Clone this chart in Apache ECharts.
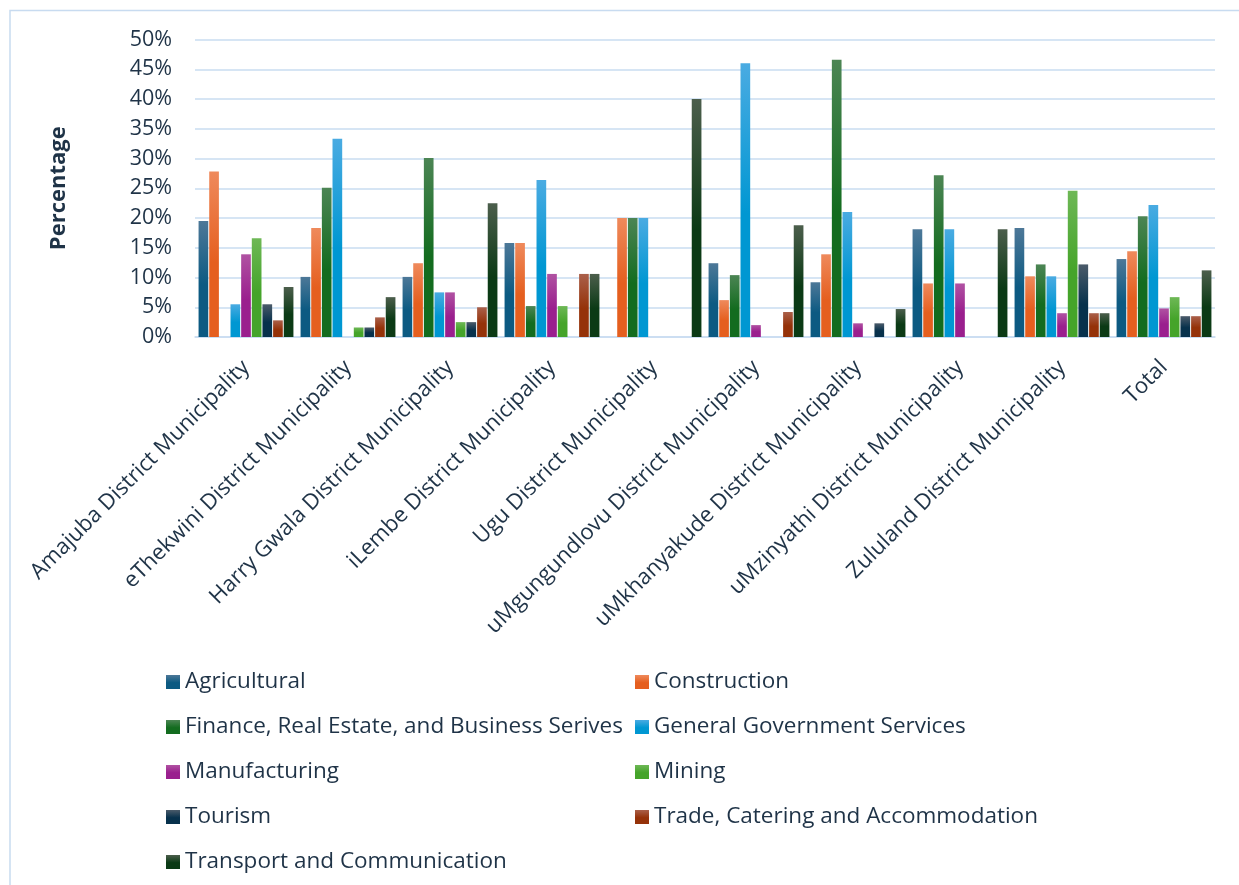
<!DOCTYPE html>
<html>
<head>
<meta charset="utf-8">
<title>Sector share by district municipality</title>
<script src="https://cdn.jsdelivr.net/npm/echarts@6/dist/echarts.min.js"></script>
<style>
  html, body { margin: 0; padding: 0; background: #ffffff; }
  #chart { width: 1239px; height: 885px; }
</style>
</head>
<body>
<div id="chart"></div>
<script>
// District municipalities (x categories)
const categories = [
  'Amajuba District Municipality',
  'eThekwini District Municipality',
  'Harry Gwala District Municipality',
  'iLembe District Municipality',
  'Ugu District Municipality',
  'uMgungundlovu District Municipality',
  'uMkhanyakude District Municipality',
  'uMzinyathi District Municipality',
  'Zululand District Municipality',
  'Total'
];

// Share of each sector per district, in percent
const agricultural  = [19.5, 10.1, 10.1, 15.8, 0,    12.4, 9.2,  18.1, 18.3, 13.1];
const construction  = [27.8, 18.3, 12.4, 15.8, 20.0, 6.2,  13.9, 9.0,  10.2, 14.4];
const finance       = [0,    25.1, 30.1, 5.2,  20.0, 10.4, 46.6, 27.2, 12.2, 20.3];
const government    = [5.5,  33.3, 7.5,  26.4, 20.0, 46.0, 21.0, 18.1, 10.2, 22.2];
const manufacturing = [13.9, 0,    7.5,  10.6, 0,    2.0,  2.3,  9.0,  4.0,  4.8];
const mining        = [16.6, 1.6,  2.5,  5.2,  0,    0,    0,    0,    24.6, 6.7];
const tourism       = [5.5,  1.6,  2.5,  0,    0,    0,    2.3,  0,    12.2, 3.5];
const trade         = [2.8,  3.3,  5.0,  10.6, 0,    4.2,  0,    0,    4.0,  3.5];
const transport     = [8.4,  6.7,  22.5, 10.6, 40.0, 18.8, 4.7,  18.1, 4.0,  11.2];

const yTicks = { min: 0, max: 50, step: 5 };

const TEXT = '#1f3347';
const GRID = '#c9dcf1';
const FONT = '"Open Sans", "Noto Sans", sans-serif';

// vertical gradient: lighter at the top, saturated towards the base
function grad(top, base) {
  return new echarts.graphic.LinearGradient(0, 0, 0, 1, [
    { offset: 0, color: top },
    { offset: 0.55, color: base },
    { offset: 1, color: base }
  ]);
}

const sectors = [
  { name: 'Agricultural', data: agricultural, c: grad('#4d7898', '#0c5a82') },
  { name: 'Construction', data: construction, c: grad('#ef8a5c', '#e55f1f') },
  { name: 'Finance, Real Estate, and Business Serives', data: finance, c: grad('#4c8554', '#136c1f') },
  { name: 'General Government Services', data: government, c: grad('#4aabe2', '#0097d2') },
  { name: 'Manufacturing', data: manufacturing, c: grad('#b052a2', '#9a1f8e') },
  { name: 'Mining', data: mining, c: grad('#6eb856', '#45a42a') },
  { name: 'Tourism', data: tourism, c: grad('#4b5b6a', '#07314c') },
  { name: 'Trade, Catering and Accommodation', data: trade, c: grad('#aa604a', '#953209') },
  { name: 'Transport and Communication', data: transport, c: grad('#4c5e4c', '#0b3a15') }
];

const leftCol = [0, 2, 4, 6, 8].map(i => sectors[i].name);
const rightCol = [1, 3, 5, 7].map(i => sectors[i].name);

const legendBase = {
  orient: 'vertical',
  padding: 0,
  itemWidth: 14,
  itemHeight: 14,
  itemGap: 21,
  itemTextGap: 6,
  icon: 'rect',
  top: 670,
  textStyle: { color: TEXT, fontSize: 22.5, fontFamily: FONT, lineHeight: 24 }
};

const chart = echarts.init(document.getElementById('chart'), null, { renderer: 'canvas' });

chart.setOption({
  backgroundColor: '#ffffff',
  animation: false,
  graphic: [{
    type: 'rect',
    shape: { x: 10, y: 10.5, width: 1400, height: 1000 },
    style: { fill: 'none', stroke: '#c8dbf0', lineWidth: 1.5 },
    silent: true
  }],
  legend: [
    Object.assign({}, legendBase, { left: 166, data: leftCol }),
    Object.assign({}, legendBase, { left: 635, data: rightCol })
  ],
  grid: { left: 195, right: 24, top: 39.5, bottom: 548 },
  xAxis: {
    type: 'category',
    data: categories,
    axisTick: { show: false },
    axisLine: { lineStyle: { color: GRID, width: 1.5 } },
    axisLabel: {
      rotate: 45,
      interval: 0,
      margin: 27,
      color: TEXT,
      fontSize: 22,
      fontFamily: FONT
    }
  },
  yAxis: {
    type: 'value',
    min: yTicks.min,
    max: yTicks.max,
    interval: yTicks.step,
    name: 'Percentage',
    nameLocation: 'middle',
    nameRotate: 90,
    nameGap: 125,
    nameTextStyle: { color: TEXT, fontSize: 22, fontWeight: 'bold', fontFamily: FONT },
    axisLine: { show: false },
    axisTick: { show: false },
    axisLabel: { formatter: '{value}%', color: TEXT, fontSize: 21.5, margin: 23, fontFamily: FONT },
    splitLine: { lineStyle: { color: GRID, width: 1.5 } }
  },
  series: sectors.map(s => ({
    name: s.name,
    type: 'bar',
    data: s.data,
    barGap: '10%',
    barCategoryGap: '7%',
    itemStyle: { color: s.c },
    emphasis: { disabled: true }
  }))
});
</script>
</body>
</html>
